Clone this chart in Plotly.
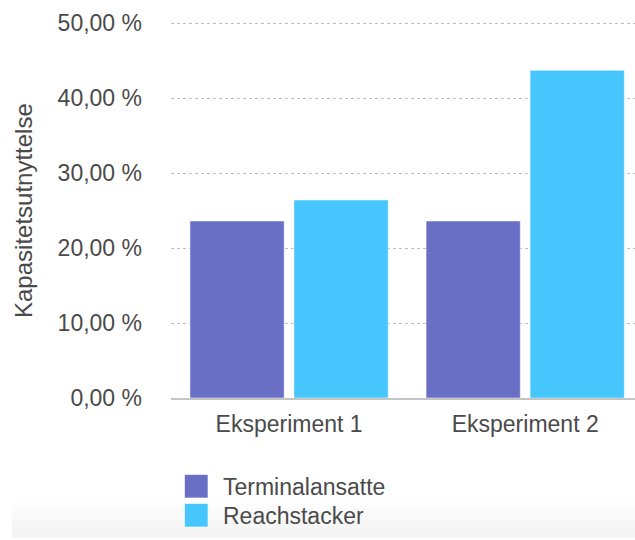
import plotly.graph_objects as go

# Data
categories = ["Eksperiment 1", "Eksperiment 2"]
series_names = ["Terminalansatte", "Reachstacker"]
terminalansatte = [23.6, 23.6]
reachstacker = [26.4, 43.7]
y_ticks = [0, 10, 20, 30, 40, 50]
y_tick_labels = ["0,00 %", "10,00 %", "20,00 %", "30,00 %", "40,00 %", "50,00 %"]
colors = ["#6a6fc6", "#47c6fd"]

W, H = 635, 540
L, R, T, B = 171, 0, 20, 142
Y_MAX = 50.4
FONT = "Liberation Sans, Arial, Helvetica, sans-serif"
TEXT = "#4a4a4a"
FS = 23

fig = go.Figure()
for name, vals, col in zip(series_names, [terminalansatte, reachstacker], colors):
    fig.add_trace(go.Bar(
        x=categories, y=vals, name=name,
        marker=dict(color=col, line=dict(color="rgba(255,255,255,0.5)", width=1)),
        showlegend=False,
    ))

# helpers converting canvas pixels to paper coordinates
plot_w = W - L - R
plot_h = H - T - B
def px_x(x):
    return (x - L) / plot_w
def px_y(y):
    return (H - B - y) / plot_h

shapes = []
annotations = []
# very faint grey band at the bottom of the canvas, soft upper edge
for y0, alpha in [(502, 0.006), (508, 0.007), (514, 0.007), (520, 0.007), (527, 0.006)]:
    shapes.append(dict(type="rect", xref="paper", yref="paper",
                       x0=px_x(12), x1=px_x(635), y0=px_y(538), y1=px_y(y0),
                       fillcolor=f"rgba(0,0,0,{alpha})", line=dict(width=0), layer="below"))

# legend: colored squares with series names
for i, (name, col) in enumerate(zip(series_names, colors)):
    top = 474.5 + i * 29
    shapes.append(dict(type="rect", xref="paper", yref="paper",
                       x0=px_x(184.5), x1=px_x(208), y0=px_y(top + 23.5), y1=px_y(top),
                       fillcolor=col, line=dict(color="rgba(255,255,255,0.6)", width=1)))
    annotations.append(dict(text=name, xref="paper", yref="paper",
                            x=px_x(221), y=px_y(top + 12.5), xanchor="left", yanchor="middle",
                            showarrow=False, font=dict(family=FONT, size=FS, color=TEXT)))

# y-axis title
annotations.append(dict(text="Kapasitetsutnyttelse", xref="paper", yref="paper",
                        x=px_x(23), y=px_y(211), xanchor="center", yanchor="middle",
                        textangle=-90, showarrow=False,
                        font=dict(family=FONT, size=24, color=TEXT)))

fig.update_layout(
    width=W, height=H,
    margin=dict(l=L, r=R, t=T, b=B),
    paper_bgcolor="white", plot_bgcolor="white",
    barmode="group", bargap=0.119, bargroupgap=0.094,
    font=dict(family=FONT, size=FS, color=TEXT),
    shapes=shapes, annotations=annotations,
    xaxis=dict(
        range=[-0.5, 1.465], showgrid=False, zeroline=False,
        showline=True, linecolor="#c4c4c4", linewidth=1.5,
        ticks="", ticklabelstandoff=5,
        tickfont=dict(family=FONT, size=FS, color=TEXT),
    ),
    yaxis=dict(
        range=[0, Y_MAX], tickvals=y_ticks, ticktext=y_tick_labels,
        showgrid=True, gridcolor="#bdbdbd", griddash="dot", gridwidth=1,
        zeroline=False, showline=False, ticks="", ticklabelstandoff=28,
        tickfont=dict(family=FONT, size=FS, color=TEXT),
    ),
)

fig.write_html("out.html")
